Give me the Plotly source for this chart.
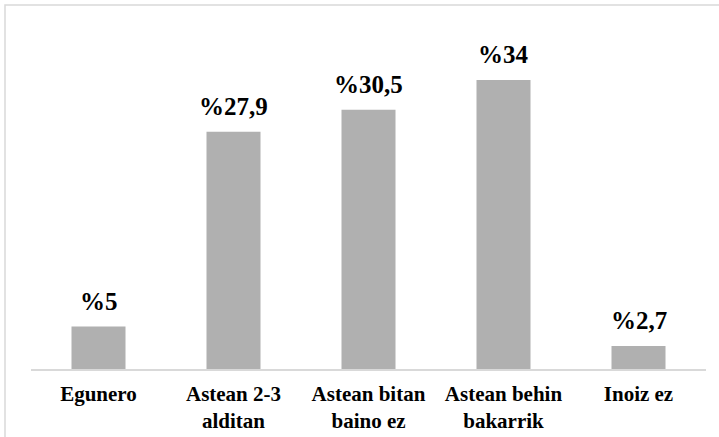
import plotly.graph_objects as go

categories = ["Egunero", "Astean 2-3<br>alditan", "Astean bitan<br>baino ez", "Astean behin<br>bakarrik", "Inoiz ez"]
values = [5, 27.9, 30.5, 34, 2.7]
labels = ["%" + ("%g" % v).replace(".", ",") for v in values]

FONT = "Liberation Serif"
W, H = 719, 437
L, R, T, B = 31, 13, 29, 68
pw, ph = W - L - R, H - T - B

fig = go.Figure(go.Bar(
    x=categories, y=values,
    marker=dict(color="#B0B0B0", line=dict(width=0)),
    hoverinfo="skip",
))

for c, v, t in zip(categories, values, labels):
    fig.add_annotation(x=c, y=v, text="<b>%s</b>" % t, showarrow=False,
                       yanchor="bottom", yshift=10,
                       font=dict(family=FONT, size=25, color="#000000"))

# outer chart border
fig.add_shape(type="rect", xref="paper", yref="paper",
              x0=(5 - L) / pw, x1=(722 - L) / pw,
              y0=(H - B - 445) / ph, y1=(H - B - 5) / ph,
              line=dict(color="#D9D9D9", width=1.5), fillcolor="rgba(0,0,0,0)", layer="below")

fig.update_layout(
    width=W, height=H,
    margin=dict(l=L, r=R, t=T, b=B, autoexpand=False),
    paper_bgcolor="white", plot_bgcolor="white",
    bargap=0.6,
    showlegend=False,
    font=dict(family=FONT, color="#000000"),
    xaxis=dict(showline=True, linecolor="#D9D9D9", linewidth=1.5,
               ticks="", showgrid=False, zeroline=False, automargin=False,
               tickfont=dict(family=FONT, size=21, color="#000000", weight="bold"),
               ticklabelstandoff=5),
    yaxis=dict(range=[0, 40], visible=False, showgrid=False, zeroline=False),
)

fig.write_html("out.html", config={"displayModeBar": False},
               post_script="document.body.style.margin='0';document.body.style.overflow='hidden';")
